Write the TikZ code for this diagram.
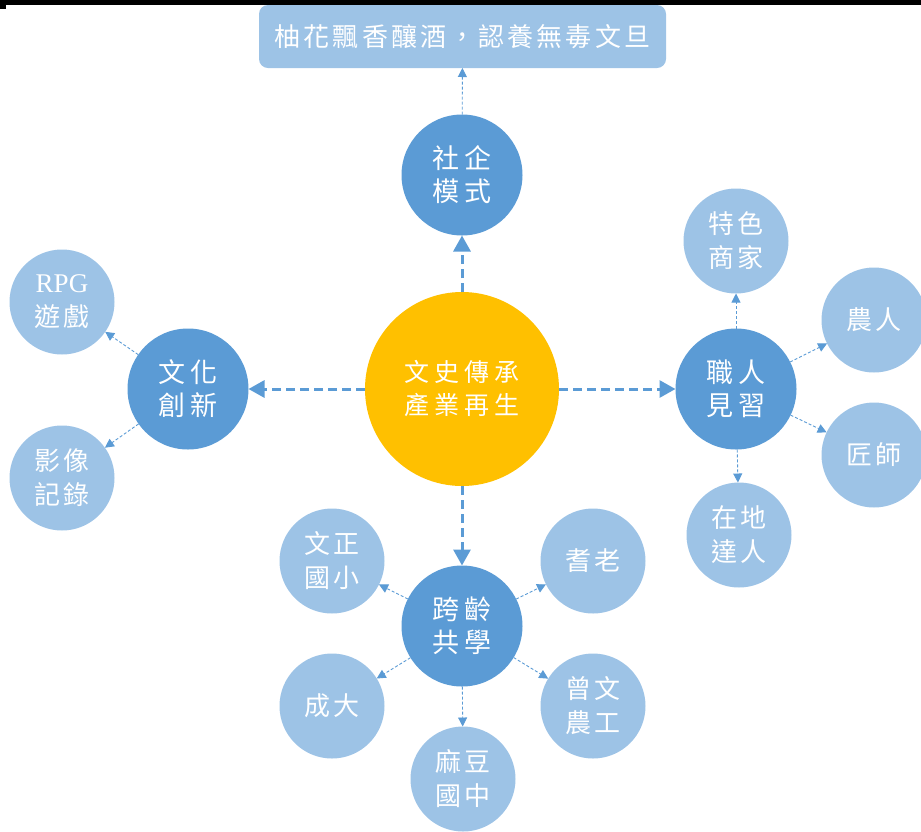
\documentclass[tikz,border=0pt]{standalone}
\usepackage{fontspec}
\newfontfamily\cjk{Noto Sans CJK TC}
\newfontfamily\latin{Liberation Serif}
\usetikzlibrary{arrows.meta}
\definecolor{hubblue}{HTML}{5B9BD5}
\definecolor{leafblue}{HTML}{9DC3E6}
\definecolor{coreyellow}{HTML}{FFC000}

\begin{document}
\begin{tikzpicture}[x=1pt,y=-1pt,
        core/.style={circle,fill=coreyellow,minimum size=194pt,inner sep=0pt,outer sep=0pt,
            text=white,align=center,font=\cjk\fontsize{25}{33}\selectfont\addfontfeature{LetterSpace=20}},
        hub/.style={circle,fill=hubblue,minimum size=121pt,inner sep=0pt,outer sep=0pt,
            text=white,align=center,font=\cjk\fontsize{27}{33}\selectfont\addfontfeature{LetterSpace=16}},
        leaf/.style={circle,fill=leafblue,minimum size=105pt,inner sep=0pt,outer sep=0pt,
            text=white,align=center,font=\cjk\fontsize{26}{34}\selectfont\addfontfeature{LetterSpace=10}},
        mainarrow/.style={hubblue,line width=3pt,dash pattern=on 9pt off 5pt,
            -{Triangle[length=16pt,width=17pt]}},
        subarrow/.style={hubblue,line width=0.9pt,dash pattern=on 3pt off 2pt,
            -{Triangle[length=9pt,width=9pt]}}]
    \useasboundingbox (0,0) rectangle (921,831);
    \fill[black] (0,0) rectangle (921,5);
    \fill[black] (0,5) rectangle (6,9);

    % slogan and centre
    \node[rectangle,rounded corners=9pt,fill=leafblue,minimum width=407pt,minimum height=63pt,
        inner sep=0pt,outer sep=0pt,text=white,
        font=\cjk\fontsize{26}{30}\selectfont\addfontfeature{LetterSpace=12}]
        (slogan) at (462.5,36.5) {柚花飄香釀酒，認養無毒文旦};
    \node[core] (core) at (462,389) {文史傳承\\產業再生};

    % four hubs
    \node[hub] (social) at (462,175) {社企\\模式};
    \node[hub] (culture) at (188,389) {文化\\創新};
    \node[hub] (craft) at (736,389) {職人\\見習};
    \node[hub] (learn) at (462,626) {跨齡\\共學};

    % leaves
    \node[leaf] (rpg) at (62,302) {{\latin\fontsize{27}{34}\selectfont RPG}\\遊戲};
    \node[leaf] (film) at (62,478) {影像\\記錄};
    \node[leaf] (shop) at (736,241) {特色\\商家};
    \node[leaf] (farmer) at (874,320) {農人};
    \node[leaf] (artisan) at (874,455) {匠師};
    \node[leaf] (local) at (739,535) {在地\\達人};
    \node[leaf] (wenzheng) at (332,561) {文正\\國小};
    \node[leaf] (elder) at (593,561) {耆老};
    \node[leaf] (ncku) at (332,706) {成大};
    \node[leaf] (zengwen) at (593,706) {曾文\\農工};
    \node[leaf] (madou) at (463,779) {麻豆\\國中};

    \draw[mainarrow] (core) -- (social);
    \draw[mainarrow] (core) -- (culture);
    \draw[mainarrow] (core) -- (craft);
    \draw[mainarrow] (core) -- (learn);

    \draw[subarrow] (social) -- (slogan);
    \foreach \leafname in {rpg,film}
        \draw[subarrow] (culture) -- (\leafname);
    \foreach \leafname in {shop,farmer,artisan,local}
        \draw[subarrow] (craft) -- (\leafname);
    \foreach \leafname in {wenzheng,elder,ncku,zengwen,madou}
        \draw[subarrow] (learn) -- (\leafname);
\end{tikzpicture}
\end{document}
